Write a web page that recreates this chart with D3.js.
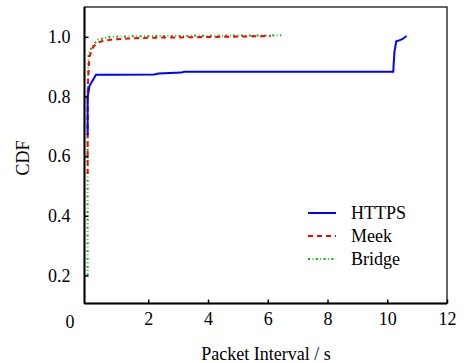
<!DOCTYPE html>
<html><head><meta charset="utf-8">
<script src="https://cdn.jsdelivr.net/npm/d3@7"></script>
<style>body{margin:0;background:#fff}svg{display:block}text{font-family:"Liberation Serif","Times New Roman",serif;fill:#000}</style>
</head><body><svg id="c" width="470" height="363"></svg>
<script>
const xTicks = [2, 4, 6, 8, 10, 12];
const yTicks = [0.2, 0.4, 0.6, 0.8, 1.0];
const seriesNames = ["HTTPS", "Meek", "Bridge"];
const httpsX = [-0.03, -0.03, 0.0, 0.03, 0.25, 1.0, 2.2, 2.35, 3.1, 3.2, 6.0, 10.2, 10.24, 10.3, 10.4, 10.5, 10.65];
const httpsY = [0.67, 0.80, 0.815, 0.835, 0.873, 0.873, 0.874, 0.877, 0.880, 0.883, 0.883, 0.883, 0.95, 0.985, 0.988, 0.992, 1.003];
const meekX = [-0.03, -0.03, -0.01, 0.03, 0.16, 0.3, 0.5, 0.8, 1.3, 2.0, 3.0, 4.5, 6.1];
const meekY = [0.54, 0.80, 0.866, 0.934, 0.967, 0.980, 0.987, 0.991, 0.994, 0.997, 0.998, 1.0, 1.003];
const bridgeX = [-0.03, -0.03, -0.01, 0.0, 0.1, 0.33, 0.72, 1.5, 3.0, 4.5, 6.45];
const bridgeY = [0.20, 0.80, 0.894, 0.939, 0.967, 0.991, 1.0, 1.002, 1.003, 1.004, 1.005];

const svg = d3.select("#c");
const L = 84.5, R = 447, T = 7, B = 303.5;
const x = d3.scaleLinear().domain([-0.135, 12]).range([L, R]);
const y = d3.scaleLinear().domain([0.106, 1.1]).range([B, T]);

const series = [
  {name: seriesNames[0], xs: httpsX, ys: httpsY, color: "#0000ff", dash: null, w: 2},
  {name: seriesNames[1], xs: meekX, ys: meekY, color: "#ff0000", dash: "5,4", w: 2},
  {name: seriesNames[2], xs: bridgeX, ys: bridgeY, color: "#00bb00", dash: "2,2.5,0.8,2.5", w: 2}
];

const line = d3.line().x(d => x(d[0])).y(d => y(d[1]));
// draw in reverse so blue is on top
[series[2], series[1], series[0]].forEach(s => {
  svg.append("path")
    .datum(s.xs.map((v, i) => [v, s.ys[i]]))
    .attr("d", line)
    .attr("fill", "none")
    .attr("stroke", s.color)
    .attr("stroke-width", s.w)
    .attr("stroke-dasharray", s.dash);
});

// frame
svg.append("rect").attr("x", L).attr("y", T).attr("width", R - L).attr("height", B - T)
  .attr("fill", "none").attr("stroke", "#000").attr("stroke-width", 1.2);
svg.append("line").attr("x1", L).attr("x2", L).attr("y1", T).attr("y2", B).attr("stroke", "#000").attr("stroke-width", 2);
svg.append("line").attr("x1", L).attr("x2", R).attr("y1", B).attr("y2", B).attr("stroke", "#000").attr("stroke-width", 2);

// axes with inward ticks
const xAxis = d3.axisBottom(x).tickValues(xTicks).tickSize(-4).tickPadding(9).tickFormat(d3.format("d"));
const gx = svg.append("g").attr("transform", `translate(0,${B})`).call(xAxis);
gx.select(".domain").remove();
gx.selectAll(".tick line").attr("stroke", "#000").attr("stroke-width", 1.5);
gx.selectAll(".tick text").attr("font-size", 18).attr("font-family", "Liberation Serif").attr("fill", "#000");

const yAxis = d3.axisLeft(y).tickValues(yTicks).tickSize(-4).tickPadding(14).tickFormat(d3.format(".1f"));
const gy = svg.append("g").attr("transform", `translate(${L},0)`).call(yAxis);
gy.select(".domain").remove();
gy.selectAll(".tick line").attr("stroke", "#000").attr("stroke-width", 1.5);
gy.selectAll(".tick text").attr("font-size", 18).attr("font-family", "Liberation Serif").attr("fill", "#000");

// origin zero label
svg.append("text").attr("x", 70).attr("y", 328).attr("text-anchor", "middle").attr("font-size", 18).text("0");

// axis titles
svg.append("text").attr("x", 266).attr("y", 360).attr("text-anchor", "middle").attr("font-size", 18).text("Packet Interval / s");
svg.append("text").attr("transform", "translate(29,158) rotate(-90)").attr("text-anchor", "middle").attr("font-size", 18).text("CDF");

// legend
const lg = svg.append("g");
series.forEach((s, i) => {
  const yy = 213 + i * 23;
  lg.append("line").attr("x1", 308).attr("x2", 336).attr("y1", yy).attr("y2", yy)
    .attr("stroke", s.color).attr("stroke-width", 2).attr("stroke-dasharray", s.dash);
  lg.append("text").attr("x", 351).attr("y", yy + 6).attr("font-size", 18).text(s.name);
});
</script></body></html>
